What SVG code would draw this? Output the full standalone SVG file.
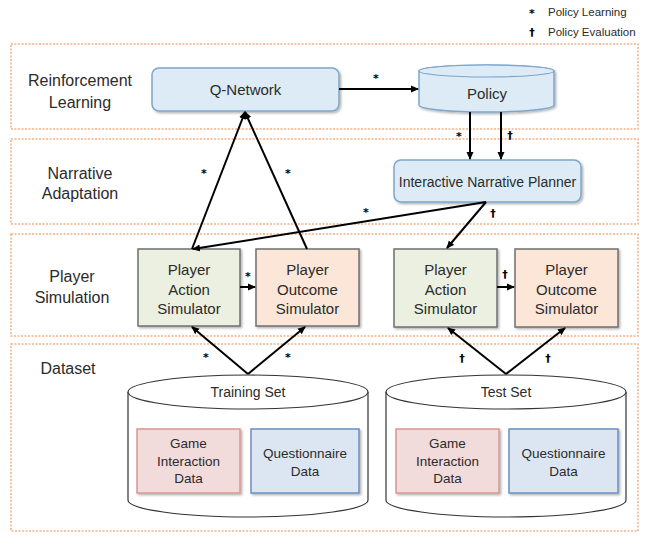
<svg xmlns="http://www.w3.org/2000/svg" width="653" height="541" viewBox="0 0 653 541">
<style>
text{font-family:"Liberation Sans",Arial,sans-serif;fill:#2b2b2b;text-anchor:middle;dominant-baseline:central}
.lane{fill:none;stroke:#f4b183;stroke-width:1.5;stroke-dasharray:2 1.5}
.lbl{font-size:16px}
.blue{fill:#dcebf5;stroke:#7ea6cc;stroke-width:1.5}
.green{fill:#ebf0e0;stroke:#6f6f6f;stroke-width:1.5}
.peach{fill:#fce6d8;stroke:#6f6f6f;stroke-width:1.5}
.pink{fill:#f2dcdb;stroke:#d99694;stroke-width:1.5}
.qblue{fill:#dce6f2;stroke:#6c8ebf;stroke-width:1.5}
.cyl{fill:#fff;stroke:#333;stroke-width:1.2}
.ln{fill:none;stroke:#000;stroke-width:2;marker-end:url(#ah)}
.mk{font-family:"DejaVu Sans",sans-serif;font-size:11px;font-weight:bold;fill:#000}
.n15{font-size:15px}
.n14{font-size:14px}
.n13{font-size:13.5px}
.leg{font-size:11.5px;text-anchor:start}
</style>
<defs>
<marker id="ah" markerWidth="8" markerHeight="8" refX="7" refY="4" orient="auto" markerUnits="userSpaceOnUse">
<path d="M0,0.5 L8,4 L0,7.5 Z" fill="#000"/>
</marker>
<filter id="sh" x="-10%" y="-10%" width="130%" height="130%">
<feDropShadow dx="1.5" dy="1.5" stdDeviation="1" flood-color="#000" flood-opacity="0.3"/>
</filter>
</defs>

<g id="legend">
<text class="mk" x="532" y="13">*</text>
<text class="leg" x="548" y="12">Policy Learning</text>
<text class="mk" x="532" y="32">†</text>
<text class="leg" x="548" y="32">Policy Evaluation</text>
</g>

<g id="lanes">
<rect class="lane" x="11" y="44" width="627" height="85"/>
<rect class="lane" x="11" y="139" width="627" height="85"/>
<rect class="lane" x="11" y="234" width="627" height="102"/>
<rect class="lane" x="11" y="344" width="627" height="187"/>
<text class="lbl" x="80" y="80">Reinforcement</text>
<text class="lbl" x="80" y="102">Learning</text>
<text class="lbl" x="80" y="173">Narrative</text>
<text class="lbl" x="80" y="193">Adaptation</text>
<text class="lbl" x="72" y="276">Player</text>
<text class="lbl" x="72" y="297">Simulation</text>
<text class="lbl" x="68" y="368">Dataset</text>
</g>

<g id="q-network">
<rect class="blue" x="152" y="68" width="187" height="43" rx="7" filter="url(#sh)"/>
<text class="n15" x="245.5" y="89">Q-Network</text>
</g>

<g id="policy">
<path class="blue" filter="url(#sh)" d="M419,71 L419,105 A67.5,7 0 0 0 554,105 L554,71 A67.5,6 0 0 0 419,71 Z"/>
<ellipse cx="486.5" cy="71" rx="67.5" ry="6" fill="#dcebf5" stroke="#7ea6cc" stroke-width="1.2"/>
<text class="n15" x="487" y="93">Policy</text>
</g>

<g id="planner">
<rect class="blue" x="394" y="160" width="187" height="42" rx="7" filter="url(#sh)"/>
<text class="n14" x="487.5" y="182">Interactive Narrative Planner</text>
</g>

<g id="pas-train">
<rect class="green" x="138" y="249" width="102" height="77" filter="url(#sh)"/>
<text class="n15" x="189" y="269">Player</text>
<text class="n15" x="189" y="289">Action</text>
<text class="n15" x="189" y="308">Simulator</text>
</g>
<g id="pos-train">
<rect class="peach" x="256" y="249" width="103" height="77" filter="url(#sh)"/>
<text class="n15" x="307.5" y="269">Player</text>
<text class="n15" x="307.5" y="289">Outcome</text>
<text class="n15" x="307.5" y="308">Simulator</text>
</g>
<g id="pas-test">
<rect class="green" x="394" y="249" width="103" height="78" filter="url(#sh)"/>
<text class="n15" x="445.5" y="269">Player</text>
<text class="n15" x="445.5" y="289">Action</text>
<text class="n15" x="445.5" y="308">Simulator</text>
</g>
<g id="pos-test">
<rect class="peach" x="515" y="249" width="103" height="78" filter="url(#sh)"/>
<text class="n15" x="566.5" y="269">Player</text>
<text class="n15" x="566.5" y="289">Outcome</text>
<text class="n15" x="566.5" y="308">Simulator</text>
</g>

<g id="training-set">
<path class="cyl" d="M128,392 L128,500 A120,17 0 0 0 368,500 L368,392"/>
<ellipse class="cyl" cx="248" cy="392" rx="120" ry="17"/>
<text class="n14" x="248" y="392">Training Set</text>
<rect class="pink" x="137" y="429" width="103" height="64" filter="url(#sh)"/>
<text class="n13" x="188.5" y="443">Game</text>
<text class="n13" x="188.5" y="461">Interaction</text>
<text class="n13" x="188.5" y="478">Data</text>
<rect class="qblue" x="251" y="429" width="108" height="64" filter="url(#sh)"/>
<text class="n13" x="305" y="453">Questionnaire</text>
<text class="n13" x="305" y="471">Data</text>
</g>

<g id="test-set">
<path class="cyl" d="M386,392 L386,500 A120,17 0 0 0 626,500 L626,392"/>
<ellipse class="cyl" cx="506" cy="392" rx="120" ry="17"/>
<text class="n14" x="506" y="392">Test Set</text>
<rect class="pink" x="396" y="429" width="103" height="64" filter="url(#sh)"/>
<text class="n13" x="447.5" y="443">Game</text>
<text class="n13" x="447.5" y="461">Interaction</text>
<text class="n13" x="447.5" y="478">Data</text>
<rect class="qblue" x="509" y="429" width="109" height="64" filter="url(#sh)"/>
<text class="n13" x="563.5" y="453">Questionnaire</text>
<text class="n13" x="563.5" y="471">Data</text>
</g>

<g id="connectors">
<line class="ln" x1="339" y1="89" x2="418" y2="89"/>
<line class="ln" x1="470" y1="112" x2="470" y2="159"/>
<line class="ln" x1="501" y1="112" x2="501" y2="159"/>
<line class="ln" x1="486" y1="202" x2="193" y2="249"/>
<line class="ln" x1="486" y1="202" x2="447" y2="248"/>
<line class="ln" x1="192" y1="249" x2="245" y2="112"/>
<line class="ln" x1="307" y1="249" x2="245" y2="112"/>
<line class="ln" x1="240" y1="287" x2="255" y2="287"/>
<line class="ln" x1="497" y1="287" x2="514" y2="287"/>
<line class="ln" x1="248" y1="374" x2="192" y2="327"/>
<line class="ln" x1="248" y1="374" x2="305" y2="327"/>
<line class="ln" x1="506" y1="374" x2="448" y2="328"/>
<line class="ln" x1="506" y1="374" x2="565" y2="328"/>
<text class="mk" x="376" y="78">*</text>
<text class="mk" x="459" y="136">*</text>
<text class="mk" x="510" y="135">†</text>
<text class="mk" x="366" y="212">*</text>
<text class="mk" x="493" y="213">†</text>
<text class="mk" x="204" y="173">*</text>
<text class="mk" x="288" y="173">*</text>
<text class="mk" x="248" y="276">*</text>
<text class="mk" x="505" y="274">†</text>
<text class="mk" x="206" y="357">*</text>
<text class="mk" x="288" y="357">*</text>
<text class="mk" x="462" y="358">†</text>
<text class="mk" x="548" y="358">†</text>
</g>
</svg>
